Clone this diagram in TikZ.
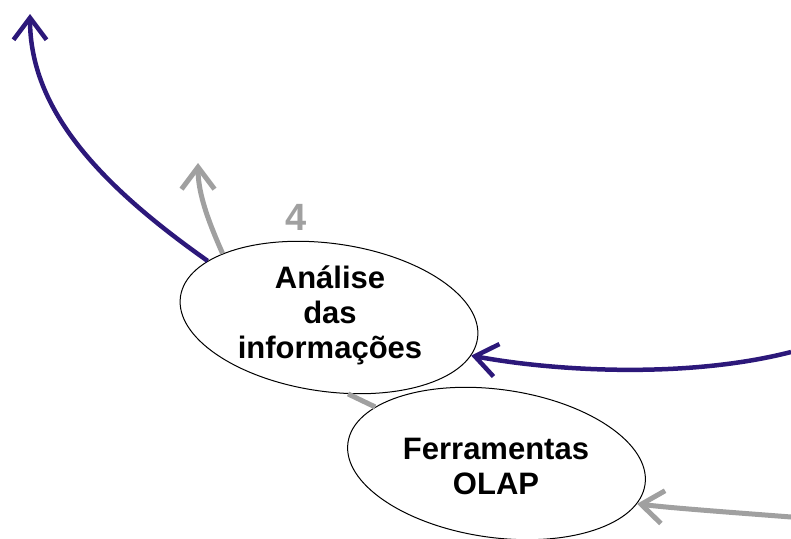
\documentclass[tikz,border=0pt]{standalone}
\usepackage{fontspec}
\setmainfont{Liberation Sans}
\usetikzlibrary{shapes.geometric,arrows.meta}

\definecolor{flowblue}{RGB}{44,24,122}
\definecolor{flowgray}{RGB}{160,160,160}

\begin{document}
\begin{tikzpicture}[x=1pt,y=-1pt,
  bubble/.style={ellipse,draw=black,line width=1pt,fill=white,
    minimum width=300pt,minimum height=148pt,inner sep=0pt,rotate=-8},
  label/.style={align=center,font=\bfseries\fontsize{31}{35}\selectfont},
  tipv/.style={-{Straight Barb[length=22pt,width=33pt]}},
  blueflow/.style={draw=flowblue,line width=4.5pt,tipv},
  grayflow/.style={draw=flowgray,line width=5pt,tipv},
  graylink/.style={draw=flowgray,line width=5pt},
  stepnum/.style={font=\bfseries\fontsize{38}{40}\selectfont,text=flowgray}]

\useasboundingbox (0,0) rectangle (791,538);

% the two process bubbles
\node[bubble] (e1) at (329,317.5) {};
\node[bubble] (e2) at (496.5,463.5) {};
\node[label] (t1) at (330,315) {Análise\\das\\informações};
\node[label] (t2) at (496,466) {Ferramentas\\OLAP};
\node[stepnum] (n4) at (296,217) {4};

% free ends of the incoming and outgoing flows
\coordinate (bluein)  at (791,352);
\coordinate (grayin)  at (791,517);
\coordinate (blueout) at (30,14);
\coordinate (grayout) at (198,163);

% flows
\draw[blueflow] (e1.163) .. controls (100,185) and (30,110) .. (blueout);
\draw[grayflow] (e1.157) .. controls (210,225) and (198,195) .. (grayout);
\draw[blueflow] (bluein) .. controls (690,378) and (560,372) .. (e1.-7);
\draw[grayflow] (grayin) .. controls (740,513) and (670,508) .. (e2.-8);
\draw[graylink] (e1.-68) -- (e2.163);

\end{tikzpicture}
\end{document}
